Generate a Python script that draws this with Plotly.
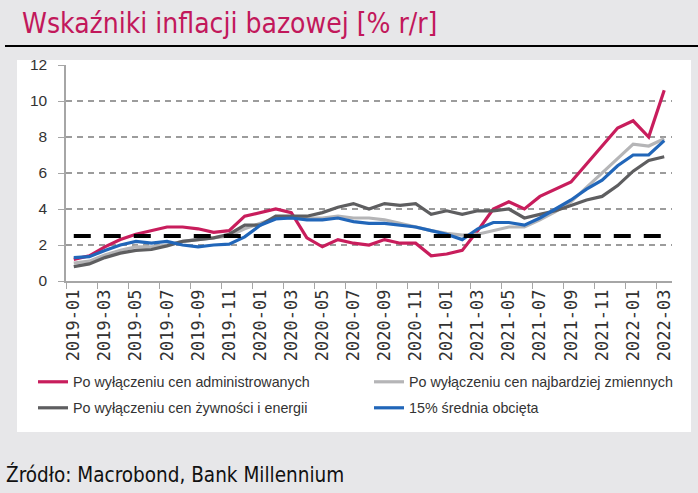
import plotly.graph_objects as go

months = [f"{y}-{m:02d}" for y in (2019, 2020, 2021, 2022) for m in range(1, 13)][:39]

admin_excl = [1.2, 1.4, 1.9, 2.3, 2.6, 2.8, 3.0, 3.0, 2.9, 2.7, 2.8, 3.6,
              3.8, 4.0, 3.8, 2.4, 1.9, 2.3, 2.1, 2.0, 2.3, 2.1, 2.1, 1.4,
              1.5, 1.7, 2.8, 4.0, 4.4, 4.0, 4.7, 5.1, 5.5, 6.5, 7.5, 8.5,
              8.9, 8.0, 10.6]
volatile_excl = [1.0, 1.1, 1.45, 1.7, 1.9, 1.9, 2.0, 2.2, 2.3, 2.4, 2.5, 2.9,
                 3.2, 3.5, 3.5, 3.5, 3.5, 3.6, 3.5, 3.5, 3.4, 3.2, 3.0, 2.8,
                 2.65, 2.55, 2.6, 2.8, 3.0, 3.0, 3.4, 3.85, 4.4, 5.2, 6.0, 6.8,
                 7.6, 7.5, 7.9]
food_energy_excl = [0.8, 0.95, 1.3, 1.55, 1.7, 1.75, 1.95, 2.2, 2.3, 2.4, 2.6, 3.1,
                    3.1, 3.6, 3.6, 3.6, 3.8, 4.1, 4.3, 4.0, 4.3, 4.2, 4.3, 3.7,
                    3.9, 3.7, 3.9, 3.9, 4.0, 3.5, 3.7, 3.9, 4.2, 4.5, 4.7, 5.3,
                    6.1, 6.7, 6.9]
trimmed_mean = [1.3, 1.35, 1.7, 2.0, 2.2, 2.1, 2.2, 2.0, 1.9, 2.0, 2.05, 2.45,
                3.1, 3.45, 3.5, 3.4, 3.4, 3.5, 3.3, 3.2, 3.2, 3.1, 3.0, 2.8,
                2.6, 2.3, 2.9, 3.25, 3.25, 3.1, 3.5, 4.0, 4.5, 5.1, 5.6, 6.4,
                7.0, 7.0, 7.8]
target = 2.5

names = ["Po wyłączeniu cen administrowanych",
         "Po wyłączeniu cen najbardziej zmiennych",
         "Po wyłączeniu cen żywności i energii",
         "15% średnia obcięta"]
colors = ["#c81d5c", "#b5b5b7", "#5e5e60", "#2166b9"]
series = [admin_excl, volatile_excl, food_energy_excl, trimmed_mean]

# pixel geometry of plot area
L, R, T, B = 66, 672, 65, 281
W, H = 698, 493
def px(x): return (x - L) / (R - L)
def py(y): return (B - y) / (B - T)

fig = go.Figure()
legend_ids = ["legend", "legend2", "legend3", "legend4"]
for nm, col, s, lg in zip(names, colors, series, legend_ids):
    fig.add_trace(go.Scatter(x=months, y=s, name=nm, mode="lines",
                             line=dict(color=col, width=3.2), legend=lg))
fig.add_trace(go.Scatter(x=[months[0], months[-1]], y=[target, target], mode="lines",
                         line=dict(color="black", width=4, dash="17px,13px"),
                         showlegend=False))

leg_font = dict(family="Liberation Sans", size=14.3, color="#333333")
leg_pos = [(33, 366), (369, 366), (33, 392), (369, 392)]
legs = {}
for lg, (lx, ly) in zip(legend_ids, leg_pos):
    legs[lg] = dict(x=px(lx), y=py(ly), xanchor="left", yanchor="top",
                    bgcolor="rgba(0,0,0,0)", font=leg_font, orientation="h",
                    borderwidth=0)

fig.update_layout(
    width=W, height=H,
    margin=dict(l=L, r=W - R, t=T, b=H - B, pad=0),
    paper_bgcolor="#e7e7e9", plot_bgcolor="white",
    showlegend=True,
    **legs,
    xaxis=dict(type="category", range=[-0.5, 38.5], tickmode="linear", tick0=0, dtick=2,
               tickson="boundaries", ticks="outside", ticklen=6, tickcolor="#a6a6a6",
               tickwidth=1.3, showline=True, linecolor="#a6a6a6", linewidth=1.5,
               showgrid=False, tickangle=-90,
               tickfont=dict(family="DejaVu Sans Mono", size=17, color="#333333")),
    yaxis=dict(range=[0, 12], dtick=2, tick0=0, ticks="outside", ticklen=6,
               tickcolor="#a6a6a6", tickwidth=1.3, showline=True, linecolor="#a6a6a6",
               linewidth=1.5, showgrid=True, gridcolor="#9c9c9c", gridwidth=1.5,
               griddash="6px,5px", zeroline=False, ticklabelstandoff=8,
               tickfont=dict(family="Liberation Sans", size=15.5, color="#333333")),
    shapes=[
        dict(type="rect", xref="paper", yref="paper", x0=px(17), x1=px(691),
             y0=py(432), y1=py(60), fillcolor="white", line=dict(width=0), layer="below"),
        dict(type="line", xref="paper", yref="paper", x0=px(5), x1=px(698),
             y0=py(46), y1=py(46), line=dict(color="black", width=2)),
    ],
    annotations=[
        dict(text="Wskaźniki inflacji bazowej [% r/r]", xref="paper", yref="paper",
             x=px(20), y=py(24), xanchor="left", yanchor="middle", showarrow=False,
             font=dict(family="DejaVu Sans Condensed", size=28, color="#c2185b")),
        dict(text="Źródło: Macrobond, Bank Millennium", xref="paper", yref="paper",
             x=px(4), y=py(474), xanchor="left", yanchor="middle", showarrow=False,
             font=dict(family="DejaVu Sans Condensed", size=20.5, color="#111111")),
    ],
)

fig.write_html("out.html")
